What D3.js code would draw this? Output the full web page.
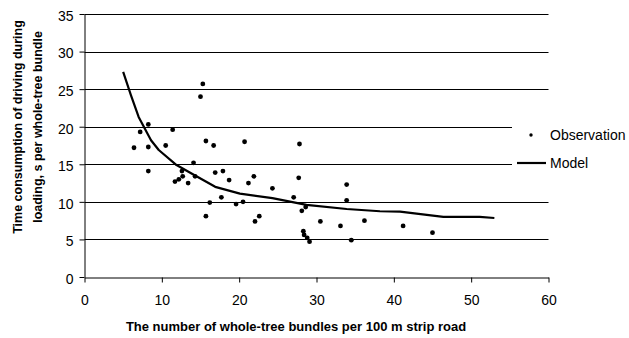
<!DOCTYPE html>
<html>
<head>
<meta charset="utf-8">
<script src="https://cdn.jsdelivr.net/npm/d3@7"></script>
<style>
  body { margin: 0; background: #fff; }
  svg { display: block; font-family: "Liberation Sans", Arial, sans-serif; }
</style>
</head>
<body>
<svg width="629" height="338"></svg>
<script>
const obsX = [15.3, 15.0, 8.25, 7.2, 11.4, 6.4, 8.25, 10.5, 15.7, 16.7, 20.7, 27.8,
              8.25, 14.1, 12.6, 11.7, 12.2, 12.7, 13.4, 14.3, 16.9, 17.9, 18.7, 16.2,
              17.7, 15.7, 19.6, 21.2, 21.9, 20.5, 22.05, 22.6, 24.3, 27.7, 27.05, 28.1,
              28.6, 28.3, 28.4, 28.8, 29.1, 30.5, 33.1, 33.9, 33.9, 34.5, 36.2, 41.2, 45.0];
const obsY = [25.7, 24.0, 20.3, 19.3, 19.6, 17.2, 17.3, 17.5, 18.1, 17.5, 18.0, 17.7,
              14.1, 15.2, 14.1, 12.7, 13.0, 13.4, 12.5, 13.4, 13.9, 14.1, 12.9, 9.9,
              10.6, 8.1, 9.7, 12.5, 13.4, 10.0, 7.4, 8.1, 11.8, 13.2, 10.6, 8.8,
              9.3, 6.1, 5.6, 5.2, 4.7, 7.4, 6.8, 12.3, 10.2, 4.9, 7.5, 6.8, 5.9];

// Model curve
const modelX = [5.0, 6.0, 7.0, 8.6, 9.6, 11.9, 14.3, 16.9, 20.1, 24.3, 28.7, 33.9, 38.2, 40.8, 46.4, 51.1, 53.0];
const modelY = [27.3, 24.2, 21.3, 18.2, 16.9, 14.9, 13.5, 12.0, 11.1, 10.5, 9.6, 9.05, 8.75, 8.7, 8.0, 8.0, 7.85];

const xTicks = [0, 10, 20, 30, 40, 50, 60];
const yTicks = [0, 5, 10, 15, 20, 25, 30, 35];

const svg = d3.select("svg");

const x = d3.scaleLinear().domain([0, 60]).range([84.5, 548.5]);
const y = d3.scaleLinear().domain([0, 35]).range([277, 14]);

// gridlines
svg.append("g")
    .selectAll("line")
    .data(yTicks.filter(d => d > 0))
    .join("line")
    .attr("x1", x(0)).attr("x2", x(60))
    .attr("y1", d => Math.round(y(d)) + 0.5).attr("y2", d => Math.round(y(d)) + 0.5)
    .attr("stroke", "#000").attr("stroke-width", 1);

// legend box hides the gridlines behind it
svg.append("rect")
    .attr("x", 512).attr("y", 108).attr("width", 117).attr("height", 76)
    .attr("fill", "#fff");

// axes
const yAxis = svg.append("g")
    .attr("transform", `translate(${x(0)},0)`)
    .call(d3.axisLeft(y).tickValues(yTicks).tickSize(5).tickSizeOuter(0).tickPadding(6));
const xAxis = svg.append("g")
    .attr("transform", `translate(0,${Math.round(y(0)) + 0.5})`)
    .call(d3.axisBottom(x).tickValues(xTicks).tickSize(5).tickSizeOuter(0).tickPadding(13));

[yAxis, xAxis].forEach(g => {
    g.select(".domain").attr("stroke", "#000");
    g.selectAll(".tick line").attr("stroke", "#000");
    g.selectAll("text").attr("fill", "#000")
        .style("font-size", "14px").style("font-family", "'Liberation Sans', Arial, sans-serif");
});
yAxis.selectAll("text").attr("dy", "0.45em");

// model line
svg.append("path")
    .datum(modelX.map((d, i) => [d, modelY[i]]))
    .attr("fill", "none")
    .attr("stroke", "#000")
    .attr("stroke-width", 2.2)
    .attr("stroke-linejoin", "round")
    .attr("d", d3.line().x(d => x(d[0])).y(d => y(d[1])));

// observations
svg.append("g")
    .selectAll("circle")
    .data(obsX.map((d, i) => [d, obsY[i]]))
    .join("circle")
    .attr("cx", d => x(d[0]))
    .attr("cy", d => y(d[1]))
    .attr("r", 2.4)
    .attr("fill", "#000");

// legend
const legend = svg.append("g").style("font-size", "14px");
legend.append("circle").attr("cx", 531).attr("cy", 135).attr("r", 1.7).attr("fill", "#000");
legend.append("text").attr("x", 550).attr("y", 135).attr("dy", "0.35em").text("Observation");
legend.append("line").attr("x1", 517).attr("x2", 546).attr("y1", 163).attr("y2", 163)
    .attr("stroke", "#000").attr("stroke-width", 2.2);
legend.append("text").attr("x", 550).attr("y", 163).attr("dy", "0.35em").text("Model");

// axis titles
svg.append("text")
    .attr("x", 296).attr("y", 326).attr("dy", "0.35em")
    .attr("text-anchor", "middle")
    .style("font-size", "13px").style("font-weight", "bold")
    .text("The number of whole-tree bundles per 100 m strip road");

const yTitle = svg.append("text")
    .attr("transform", "translate(0,127) rotate(-90)")
    .attr("text-anchor", "middle")
    .style("font-size", "12.5px").style("font-weight", "bold");
yTitle.append("tspan").attr("x", 0).attr("y", 18).attr("dy", "0.35em")
    .text("Time consumption of driving during");
yTitle.append("tspan").attr("x", 0).attr("y", 38).attr("dy", "0.35em")
    .text("loading, s per whole-tree bundle");
</script>
</body>
</html>
